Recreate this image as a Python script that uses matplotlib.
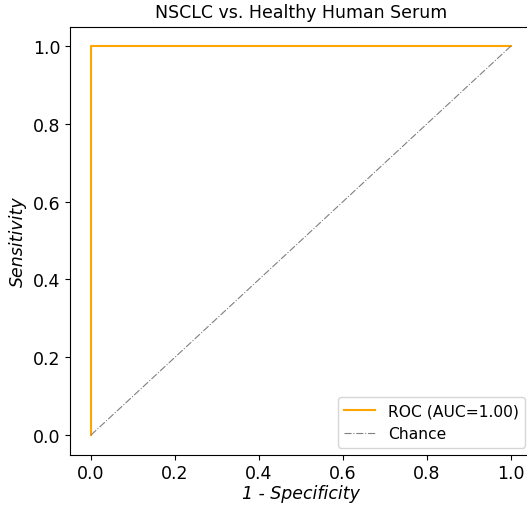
import matplotlib
matplotlib.use("Agg")
import matplotlib.pyplot as plt

# ROC curve points (false positive rate, true positive rate)
fpr = [0.0, 0.0, 1.0]
tpr = [0.0, 1.0, 1.0]
auc = 1.00

# Chance diagonal
chance_x = [0.0, 1.0]
chance_y = [0.0, 1.0]

ticks = [0.0, 0.2, 0.4, 0.6, 0.8, 1.0]

W, H = 527, 506
fig = plt.figure(figsize=(W / 100, H / 100), dpi=100)
ax = fig.add_axes([70 / W, 1 - 455.5 / H, 462 / W, 428 / H])

ax.plot(fpr, tpr, color="orange", lw=1.5, label=f"ROC (AUC={auc:.2f})")
ax.plot(chance_x, chance_y, color="gray", lw=0.8, linestyle="-.", label="Chance")

ax.set_xlim(-0.05, 1.05)
ax.set_ylim(-0.05, 1.05)
ax.set_xticks(ticks)
ax.set_yticks(ticks)
ax.spines["right"].set_visible(False)
ax.tick_params(labelsize=12.5)
ax.set_xlabel("1 - Specificity", fontsize=12.5, fontstyle="italic", labelpad=1)
ax.set_ylabel("Sensitivity", fontsize=12.5, fontstyle="italic")
ax.set_title("NSCLC vs. Healthy Human Serum", fontsize=12.5, pad=7)
ax.legend(loc="lower right", fontsize=11.2, borderaxespad=0.45)

fig.savefig("out.png", dpi=100)
